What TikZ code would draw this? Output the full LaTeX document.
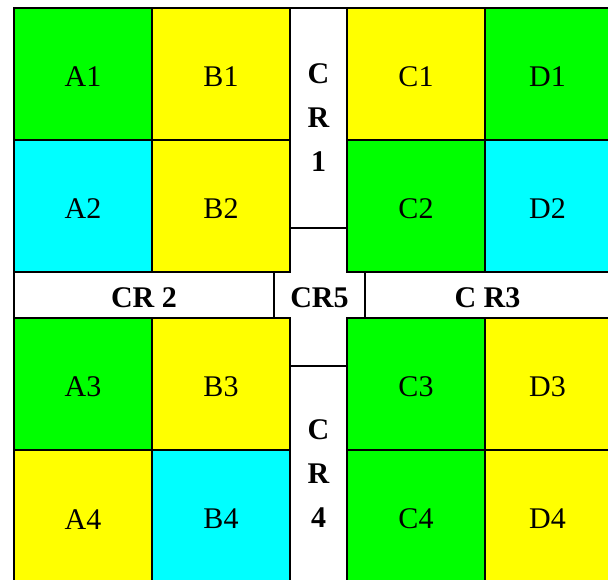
\documentclass[tikz,border=0pt]{standalone}
\usepackage{fontspec}
\setmainfont{Liberation Serif}
\usetikzlibrary{positioning,calc}
\definecolor{lotgreen}{RGB}{0,255,0}
\definecolor{lotyellow}{RGB}{255,255,0}
\definecolor{lotcyan}{RGB}{0,255,255}

\begin{document}
\begin{tikzpicture}[
    x=1pt, y=-1pt,
    node distance=0pt,
    lot/.style={rectangle, draw, line width=1.9pt, minimum width=138pt, minimum height=132pt, inner sep=0pt, outer sep=0pt, text height=26pt, font=\fontsize{30}{36}\selectfont},
    corridor/.style={rectangle, draw, fill=white, line width=1.9pt, minimum width=57pt, inner sep=0pt, outer sep=0pt, align=center, font=\bfseries\fontsize{30}{44}\selectfont},
    lowtext/.style={text height=25pt}
  ]
    \useasboundingbox (0,0) rectangle (608,580);
    % upper left block
    \node[lot, fill=lotgreen] (A1) at (83,74) {A1};
    \node[lot, fill=lotyellow, right=of A1] (B1) {B1};
    \node[lot, fill=lotcyan, below=of A1] (A2) {A2};
    \node[lot, fill=lotyellow, right=of A2] (B2) {B2};
    % upper right block
    \node[lot, fill=lotyellow, right=57pt of B1] (C1) {C1};
    \node[lot, fill=lotgreen, minimum width=125pt, right=of C1] (D1) {D1};
    \node[lot, fill=lotgreen, below=of C1] (C2) {C2};
    \node[lot, fill=lotcyan, minimum width=125pt, right=of C2] (D2) {D2};
    % lower left block
    \node[lot, fill=lotgreen, below=46pt of A2] (A3) {A3};
    \node[lot, fill=lotyellow, right=of A3] (B3) {B3};
    \node[lot, fill=lotyellow, below=of A3] (A4) {A4};
    \node[lot, fill=lotcyan, right=of A4] (B4) {B4};
    % lower right block
    \node[lot, fill=lotgreen, below=46pt of C2] (C3) {C3};
    \node[lot, fill=lotyellow, minimum width=125pt, right=of C3] (D3) {D3};
    \node[lot, fill=lotgreen, below=of C3] (C4) {C4};
    \node[lot, fill=lotyellow, minimum width=125pt, right=of C4] (D4) {D4};

    % corridors
    \node[corridor, minimum height=220pt, anchor=north west] (CR1) at (B1.north east) {C\\R\\1};
    \node[corridor, minimum height=216pt, anchor=south west] (CR4) at (B4.south east) {C\\R\\4};
    \node[corridor, lowtext, minimum width=260pt, minimum height=46pt, anchor=north west] (CR2) at (A2.south west) {CR 2};
    \node[corridor, lowtext, minimum width=245pt, minimum height=46pt, anchor=north east] (CR3) at (D2.south east) {C R3};
    \node[lowtext, font=\bfseries\fontsize{30}{36}\selectfont, inner sep=0pt] (CR5) at ($(CR2.east)!0.5!(CR3.west)$) {CR5};
  \end{tikzpicture}
\end{document}
